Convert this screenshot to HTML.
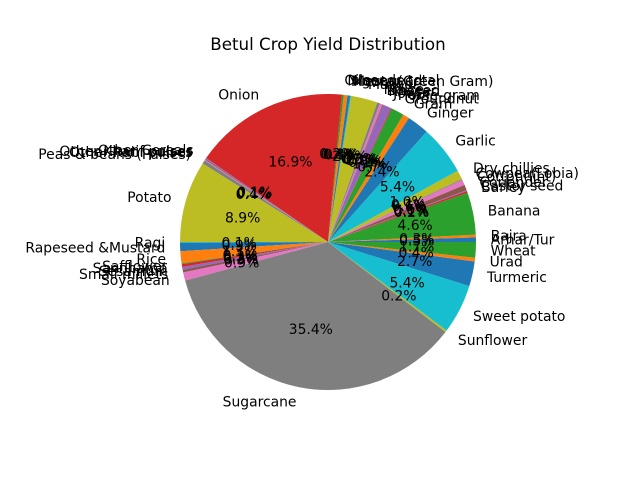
<!DOCTYPE html>
<html><head><meta charset="utf-8"><style>
body{margin:0;background:#fff}
svg{display:block;font-family:"DejaVu Sans","Liberation Sans",sans-serif}
</style></head><body>
<svg id="chart" width="640" height="480">
<rect width="640" height="480" fill="#fff"/>
<text x="328" y="50" text-anchor="middle" font-size="16.7">Betul Crop Yield Distribution</text>
<g id="slices"></g><g id="labels"></g>
</svg>
<script>
const crops = ["Arhar/Tur","Bajra","Banana","Barley","Castor seed","Coriander","Cotton(lint)","Cowpea(Lobia)","Dry chillies","Garlic","Ginger","Gram","Groundnut","Horse-gram","Jowar","Khesari","Linseed","Maize","Masoor","Mesta","Moong(Green Gram)","Niger seed","Oilseeds total","Onion","Other Cereals","Other Kharif pulses","Other Rabi pulses","Peas & beans (Pulses)","Potato","Ragi","Rapeseed &Mustard","Rice","Safflower","Sannhamp","Sesamum","Small millets","Soyabean","Sugarcane","Sunflower","Sweet potato","Turmeric","Urad","Wheat"];
const shares = [0.5,0.3,4.6,0.2,0.1,0.6,0.6,0.1,1.0,5.4,2.4,0.7,1.4,0.1,0.9,0.1,0.3,0.3,2.9,0.1,0.3,0.4,0.2,16.9,0.1,0.1,0.1,0.4,8.9,0.1,0.9,1.3,0.1,0.3,0.3,0.3,0.9,35.4,0.2,5.4,2.7,0.4,1.7];
const palette = ["#1f77b4","#ff7f0e","#2ca02c","#d62728","#9467bd","#8c564b","#e377c2","#7f7f7f","#bcbd22","#17becf"];
const cx=328, cy=242, R=148;
const NS="http://www.w3.org/2000/svg";
const total = shares.reduce((a,b)=>a+b,0);
const gS=document.getElementById('slices'), gL=document.getElementById('labels');
let acc=0;
function pt(a,r){return [cx+r*Math.cos(a), cy-r*Math.sin(a)];}
shares.forEach((v,i)=>{
  const a0=acc/total*2*Math.PI; acc+=v; const a1=acc/total*2*Math.PI;
  const p0=pt(a0,R), p1=pt(a1,R);
  const large=(a1-a0)>Math.PI?1:0;
  const path=document.createElementNS(NS,'path');
  path.setAttribute('d',`M${cx},${cy} L${p0[0]},${p0[1]} A${R},${R} 0 ${large} 0 ${p1[0]},${p1[1]} Z`);
  path.setAttribute('fill',palette[i%10]);
  
  
  gS.appendChild(path);
  const m=(a0+a1)/2;
  const lp=pt(m,R*1.1);
  const t=document.createElementNS(NS,'text');
  t.setAttribute('x',lp[0]); t.setAttribute('y',lp[1]+5);
  t.setAttribute('font-size','13.9');
  t.setAttribute('text-anchor',Math.cos(m)>=0?'start':'end');
  t.textContent=crops[i];
  
  
  gL.appendChild(t);
  const pp=pt(m,R*0.6);
  const p=document.createElementNS(NS,'text');
  p.setAttribute('x',pp[0]); p.setAttribute('y',pp[1]+5);
  p.setAttribute('font-size','13.9');
  p.setAttribute('text-anchor','middle');
  p.textContent=(v/total*100).toFixed(1)+'%';
  
  
  gL.appendChild(p);
});
</script>
</body></html>
